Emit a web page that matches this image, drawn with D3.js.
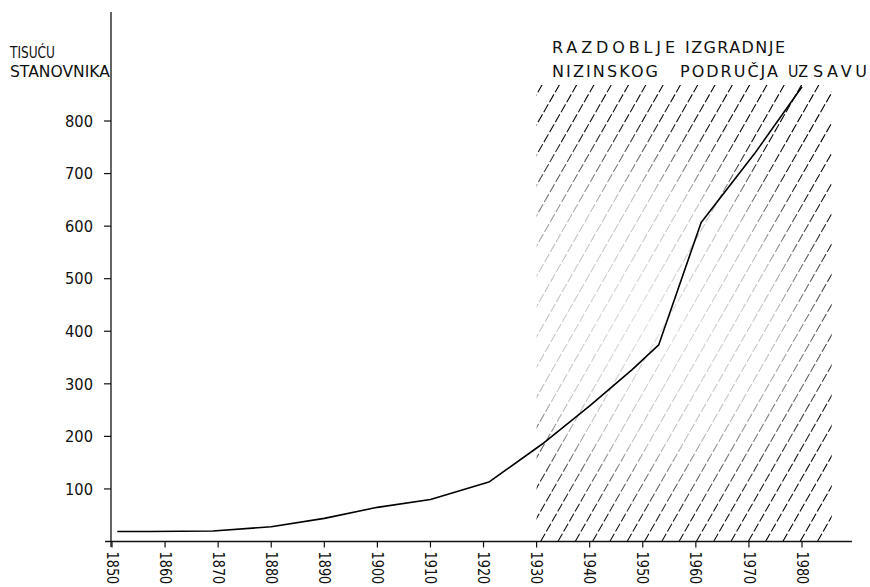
<!DOCTYPE html>
<html>
<head>
<meta charset="utf-8">
<script src="https://cdn.jsdelivr.net/npm/d3@7"></script>
<style>
  html, body { margin: 0; padding: 0; background: #fff; }
  svg { display: block; }
  text { font-family: "DejaVu Sans", "Liberation Sans", sans-serif; fill: #111; }
</style>
</head>
<body>
<div id="chart"></div>
<script>
// ---- data ----
const years = [1851, 1857, 1869, 1880, 1890, 1900, 1910, 1921, 1931, 1940, 1948, 1953, 1961, 1971, 1980];
const population = [19, 19, 20, 28, 44, 65, 80, 113, 185, 258, 327, 374, 607, 737, 865];
const xTickYears = [1850, 1860, 1870, 1880, 1890, 1900, 1910, 1920, 1930, 1940, 1950, 1960, 1970, 1980];
const xTickLabels = ["1850", "1860", "1870", "1880", "1890", "1900", "1910", "1920", "1930", "1940", "1950", "1960", "1970", "1980"];
const yTicks = [100, 200, 300, 400, 500, 600, 700, 800];
const yTickLabels = ["100", "200", "300", "400", "500", "600", "700", "800"];
const periodStart = 1930;
const periodEnd = 1985.6;
const yAxisTitle = ["TISUĆU", "STANOVNIKA"];
const periodTitle1 = ["RAZDOBLJE", "IZGRADNJE"];
const periodTitle2 = ["NIZINSKOG", "PODRUČJA", "UZ", "SAVU"];

// ---- layout ----
const W = 870, H = 587;
const svg = d3.select("#chart").append("svg").attr("width", W).attr("height", H);

const x = d3.scaleLinear().domain([1850, 1980]).range([112, 802]);
const y = d3.scaleLinear().domain([0, 800]).range([541.5, 121]);
const baseY = y(0);

// fit a horizontal text to a target width: condense if too wide, letter-space if too narrow
function fit(sel, target, alwaysScale) {
  const n = sel.node().getComputedTextLength();
  if (n > target || alwaysScale) {
    const xx = +sel.attr("x"), sx = target / n;
    sel.attr("transform", `translate(${xx},0) scale(${sx},1) translate(${-xx},0)`);
  } else {
    sel.attr("textLength", target).attr("lengthAdjust", "spacing");
  }
}

// ---- hatched period ----
const hx0 = x(periodStart), hx1 = x(periodEnd), hy0 = 85, hy1 = baseY;
const defs = svg.append("defs");
defs.append("clipPath").attr("id", "hclip")
  .append("rect").attr("x", hx0).attr("y", hy0).attr("width", hx1 - hx0).attr("height", hy1 - hy0);
const rg = defs.append("radialGradient").attr("id", "hgrad")
  .attr("gradientUnits", "userSpaceOnUse")
  .attr("cx", 650).attr("cy", 320).attr("r", 250);
rg.append("stop").attr("offset", 0).attr("stop-color", "#fff").attr("stop-opacity", 0.12);
rg.append("stop").attr("offset", 0.5).attr("stop-color", "#fff").attr("stop-opacity", 0.25);
rg.append("stop").attr("offset", 0.8).attr("stop-color", "#fff").attr("stop-opacity", 0.9);
rg.append("stop").attr("offset", 1).attr("stop-color", "#fff").attr("stop-opacity", 1);
const mask = defs.append("mask").attr("id", "hmask").attr("maskUnits", "userSpaceOnUse")
  .attr("x", 0).attr("y", 0).attr("width", W).attr("height", H);
mask.append("rect").attr("x", 0).attr("y", 0).attr("width", W).attr("height", H).attr("fill", "url(#hgrad)");

const slope = 1.75, spacing = 17.3;
const hatchStarts = [];
for (let xb = hx0 + 4 - spacing * 20; xb <= hx1 + 2; xb += spacing) hatchStarts.push(xb);
svg.append("g").attr("clip-path", "url(#hclip)").attr("mask", "url(#hmask)")
  .selectAll("line").data(hatchStarts).join("line")
  .attr("x1", d => d).attr("y1", hy1)
  .attr("x2", d => d + (hy1 - hy0 + 10) / slope).attr("y2", hy0 - 10)
  .attr("stroke", "#000").attr("stroke-width", 1.1)
  .attr("stroke-dasharray", "9 2.5");

// ---- axes ----
const axisG = svg.append("g").attr("stroke", "#111").attr("stroke-width", 1.3);
axisG.append("line").attr("x1", x(1848.7)).attr("x2", x(1989.4)).attr("y1", baseY).attr("y2", baseY);
axisG.append("line").attr("x1", 111).attr("x2", 111).attr("y1", 12).attr("y2", 547);

// y ticks
svg.append("g").selectAll("line").data(yTicks).join("line")
  .attr("x1", 104).attr("x2", 111).attr("y1", d => y(d)).attr("y2", d => y(d))
  .attr("stroke", "#111").attr("stroke-width", 1.2);
svg.append("g").selectAll("text").data(yTicks).join("text")
  .attr("x", 93).attr("y", d => y(d)).attr("dy", "0.36em")
  .attr("text-anchor", "end").style("font-size", "16px")
  .text((d, i) => yTickLabels[i])
  .each(function () { fit(d3.select(this), 28, true); });

// x ticks
svg.append("g").selectAll("line").data(xTickYears).join("line")
  .attr("x1", d => x(d)).attr("x2", d => x(d)).attr("y1", baseY).attr("y2", baseY + 6)
  .attr("stroke", "#111").attr("stroke-width", 1.2);
svg.append("g").selectAll("text").data(xTickYears).join("text")
  .attr("transform", d => `translate(${x(d)},${baseY + 10}) rotate(90) scale(0.86,1)`)
  .attr("dy", "0.36em").attr("text-anchor", "start").style("font-size", "15px")
  .text((d, i) => xTickLabels[i]);

// ---- population line ----
const pts = years.map((yr, i) => [yr, population[i]]);
svg.append("path").datum(pts)
  .attr("fill", "none").attr("stroke", "#000").attr("stroke-width", 1.6)
  .attr("stroke-linejoin", "round")
  .attr("d", d3.line().x(d => x(d[0])).y(d => y(d[1])));

// ---- texts ----
const tg = svg.append("g");
fit(tg.append("text").attr("x", 10).attr("y", 58).style("font-size", "15px").text(yAxisTitle[0]), 45, true);
fit(tg.append("text").attr("x", 10).attr("y", 77).style("font-size", "15px").text(yAxisTitle[1]), 100, true);

const t1 = [[552, 123], [685, 100]];
periodTitle1.forEach((s, i) => {
  fit(tg.append("text").attr("x", t1[i][0]).attr("y", 53).style("font-size", "16px").text(s), t1[i][1]);
});
const t2 = [[552, 106], [680, 98], [788, 20], [813, 54]];
periodTitle2.forEach((s, i) => {
  fit(tg.append("text").attr("x", t2[i][0]).attr("y", 77).style("font-size", "16px").text(s), t2[i][1]);
});
</script>
</body>
</html>
